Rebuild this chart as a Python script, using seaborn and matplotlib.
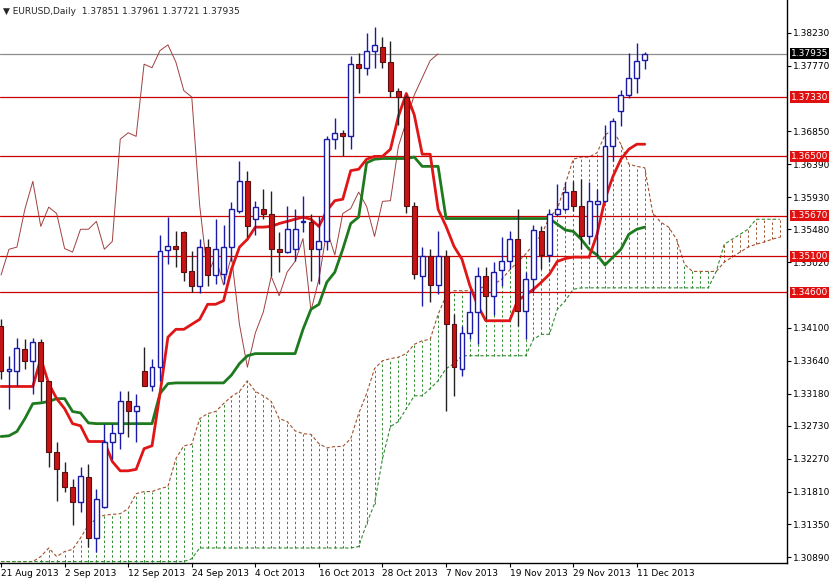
import numpy as np
import pandas as pd
import matplotlib
matplotlib.use("Agg")
import matplotlib.pyplot as plt
import seaborn as sns

# EURUSD daily candles, 21 Aug 2013 .. 12 Dec 2013
opens = [1.3413, 1.3349, 1.3350, 1.3381, 1.3364, 1.3390, 1.3335, 1.3237, 1.3208, 1.3187,
         1.3166, 1.3202, 1.3116, 1.3159, 1.3251, 1.3263, 1.3307, 1.3294, 1.3349, 1.3329,
         1.3355, 1.3519, 1.3524, 1.3544, 1.3489, 1.3469, 1.3523, 1.3484, 1.3485, 1.3523,
         1.3574, 1.3615, 1.3562, 1.3577, 1.3570, 1.3521, 1.3516, 1.3520, 1.3558, 1.3558,
         1.3520, 1.3531, 1.3674, 1.3682, 1.3678, 1.3779, 1.3774, 1.3798, 1.3803, 1.3782,
         1.3742, 1.3733, 1.3580, 1.3482, 1.3510, 1.3470, 1.3510, 1.3415, 1.3353, 1.3403,
         1.3432, 1.3482, 1.3455, 1.3491, 1.3503, 1.3535, 1.3434, 1.3478, 1.3545, 1.3512,
         1.3569, 1.3577, 1.3601, 1.3581, 1.3538, 1.3584, 1.3588, 1.3664, 1.3713, 1.3736,
         1.3759, 1.37851]
highs = [1.3422, 1.3371, 1.3396, 1.3394, 1.3396, 1.3394, 1.3336, 1.3251, 1.3223, 1.3199,
         1.3215, 1.3220, 1.3185, 1.3276, 1.3276, 1.3321, 1.3321, 1.3318, 1.3383, 1.3367,
         1.3540, 1.3565, 1.3545, 1.3545, 1.3517, 1.3535, 1.3534, 1.3562, 1.3554, 1.3586,
         1.3644, 1.3630, 1.3588, 1.3605, 1.3602, 1.3544, 1.3580, 1.3576, 1.3594, 1.3569,
         1.3566, 1.3678, 1.3703, 1.3687, 1.3791, 1.3795, 1.3823, 1.3831, 1.3817, 1.3812,
         1.3746, 1.3736, 1.3586, 1.3523, 1.3520, 1.3545, 1.3519, 1.3429, 1.3413, 1.3462,
         1.3495, 1.3495, 1.3502, 1.3537, 1.3545, 1.3576, 1.3488, 1.3554, 1.3552, 1.3576,
         1.3611, 1.3614, 1.3615, 1.3618, 1.3614, 1.3604, 1.3694, 1.3704, 1.3743, 1.3795,
         1.3809, 1.37961]
lows = [1.3339, 1.3297, 1.3329, 1.3353, 1.3318, 1.3307, 1.3216, 1.3168, 1.3181, 1.3134,
        1.3153, 1.3104, 1.3097, 1.3158, 1.3227, 1.3241, 1.3258, 1.3251, 1.3328, 1.3321,
        1.3336, 1.3499, 1.3495, 1.3475, 1.3460, 1.3459, 1.3468, 1.3471, 1.3471, 1.3503,
        1.3571, 1.3537, 1.3540, 1.3562, 1.3482, 1.3488, 1.3515, 1.3503, 1.3544, 1.3475,
        1.3471, 1.3519, 1.3660, 1.3650, 1.3661, 1.3739, 1.3764, 1.3774, 1.3774, 1.3733,
        1.3694, 1.3571, 1.3478, 1.3441, 1.3446, 1.3457, 1.3293, 1.3314, 1.3342, 1.3394,
        1.3387, 1.3422, 1.3428, 1.3469, 1.3492, 1.3413, 1.3394, 1.3460, 1.3492, 1.3502,
        1.3566, 1.3574, 1.3573, 1.3520, 1.3527, 1.3510, 1.3586, 1.3643, 1.3692, 1.3732,
        1.3739, 1.37721]
closes = [1.3349, 1.3353, 1.3382, 1.3364, 1.3390, 1.3335, 1.3237, 1.3212, 1.3187, 1.3166,
          1.3203, 1.3116, 1.3171, 1.3251, 1.3263, 1.3307, 1.3294, 1.3300, 1.3329, 1.3355,
          1.3517, 1.3524, 1.3521, 1.3488, 1.3469, 1.3523, 1.3484, 1.3520, 1.3523, 1.3576,
          1.3615, 1.3552, 1.3579, 1.3570, 1.3521, 1.3516, 1.3548, 1.3548, 1.3559, 1.3520,
          1.3531, 1.3674, 1.3683, 1.3678, 1.3779, 1.3774, 1.3798, 1.3806, 1.3782, 1.3742,
          1.3733, 1.3581, 1.3485, 1.3510, 1.3470, 1.3510, 1.3415, 1.3355, 1.3403, 1.3432,
          1.3482, 1.3455, 1.3488, 1.3503, 1.3535, 1.3434, 1.3478, 1.3547, 1.3512, 1.3570,
          1.3577, 1.3600, 1.3580, 1.3538, 1.3587, 1.3588, 1.3664, 1.3699, 1.3736, 1.3760,
          1.3784, 1.37935]

# Ichimoku lines
tenkan = [1.3328, 1.3328, 1.3328, 1.3328, 1.3328, 1.3367, 1.3332, 1.3311, 1.3297, 1.3276,
          1.3273, 1.3251, 1.3251, 1.3251, 1.3223, 1.3210, 1.3210, 1.3212, 1.3241, 1.3245,
          1.3318, 1.3397, 1.3408, 1.3408, 1.3415, 1.3422, 1.3443, 1.3443, 1.3448, 1.3492,
          1.3523, 1.3534, 1.3551, 1.3551, 1.3552, 1.3556, 1.3559, 1.3562, 1.3565, 1.3562,
          1.3552, 1.3574, 1.3588, 1.3590, 1.3630, 1.3632, 1.3646, 1.3650, 1.3650, 1.3660,
          1.3706, 1.3738, 1.3708, 1.3653, 1.3653, 1.3576, 1.3552, 1.3524, 1.3506, 1.3469,
          1.3441, 1.3420, 1.3420, 1.3420, 1.3420, 1.3448, 1.3456, 1.3464, 1.3474, 1.3485,
          1.3503, 1.3507, 1.3509, 1.3509, 1.3509, 1.3541, 1.3590, 1.3622, 1.3646, 1.3660,
          1.3667, 1.3667]
kijun = [1.3258, 1.3259, 1.3265, 1.3283, 1.3304, 1.3305, 1.3307, 1.3311, 1.3311, 1.3293,
         1.3291, 1.3277, 1.3276, 1.3276, 1.3276, 1.3276, 1.3276, 1.3276, 1.3276, 1.3276,
         1.3318, 1.3332, 1.3333, 1.3333, 1.3333, 1.3333, 1.3333, 1.3333, 1.3333, 1.3344,
         1.3360, 1.3371, 1.3374, 1.3374, 1.3374, 1.3374, 1.3374, 1.3374, 1.3408, 1.3436,
         1.3443, 1.3474, 1.3488, 1.3520, 1.3556, 1.3565, 1.3641, 1.3646, 1.3647, 1.3647,
         1.3647, 1.3647, 1.3649, 1.3636, 1.3636, 1.3636, 1.3563, 1.3563, 1.3563, 1.3563,
         1.3563, 1.3563, 1.3563, 1.3563, 1.3563, 1.3563, 1.3563, 1.3563, 1.3563, 1.3563,
         1.3555, 1.3547, 1.3545, 1.3534, 1.3520, 1.3512, 1.3498, 1.3509, 1.3520, 1.3541,
         1.3548, 1.3551]
span_a = [1.3083, 1.3083, 1.3083, 1.3083, 1.3083, 1.3090, 1.3102, 1.3090, 1.3097, 1.3100,
          1.3116, 1.3134, 1.3143, 1.3148, 1.3149, 1.3150, 1.3157, 1.3178, 1.3181, 1.3181,
          1.3185, 1.3188, 1.3227, 1.3245, 1.3247, 1.3283, 1.3290, 1.3293, 1.3304, 1.3314,
          1.3321, 1.3336, 1.3321, 1.3315, 1.3307, 1.3283, 1.3279, 1.3266, 1.3262, 1.3261,
          1.3248, 1.3242, 1.3244, 1.3244, 1.3255, 1.3290, 1.3318, 1.3353, 1.3364, 1.3367,
          1.3369, 1.3374, 1.3387, 1.3392, 1.3394, 1.3429, 1.3455, 1.3462, 1.3462, 1.3462,
          1.3464, 1.3469, 1.3471, 1.3478, 1.3491, 1.3502, 1.3513, 1.3527, 1.3540, 1.3565,
          1.3576, 1.3611, 1.3646, 1.3649, 1.3649, 1.3655, 1.3680, 1.3687, 1.3667, 1.3639,
          1.3636, 1.3634, 1.3571, 1.3558, 1.3551, 1.3534, 1.3499, 1.3489, 1.3489, 1.3489,
          1.3489, 1.3502, 1.3509, 1.3516, 1.3523, 1.3527, 1.3530, 1.3534, 1.3537]
span_b = [1.3083, 1.3083, 1.3083, 1.3083, 1.3083, 1.3083, 1.3083, 1.3083, 1.3083, 1.3083,
          1.3083, 1.3083, 1.3083, 1.3083, 1.3083, 1.3083, 1.3083, 1.3083, 1.3083, 1.3083,
          1.3083, 1.3083, 1.3083, 1.3083, 1.3087, 1.3102, 1.3102, 1.3102, 1.3102, 1.3102,
          1.3102, 1.3102, 1.3102, 1.3102, 1.3102, 1.3102, 1.3102, 1.3102, 1.3102, 1.3102,
          1.3102, 1.3102, 1.3102, 1.3102, 1.3102, 1.3104, 1.3136, 1.3164, 1.3227, 1.3272,
          1.3279, 1.3297, 1.3315, 1.3315, 1.3325, 1.3336, 1.3353, 1.3360, 1.3371, 1.3371,
          1.3371, 1.3371, 1.3371, 1.3371, 1.3371, 1.3371, 1.3371, 1.3394, 1.3401, 1.3401,
          1.3436, 1.3448, 1.3464, 1.3466, 1.3466, 1.3466, 1.3466, 1.3466, 1.3466, 1.3466,
          1.3466, 1.3466, 1.3466, 1.3466, 1.3466, 1.3466, 1.3466, 1.3466, 1.3466, 1.3466,
          1.3489, 1.3527, 1.3534, 1.3541, 1.3548, 1.3562, 1.3562, 1.3562, 1.3562]

levels = [1.37330, 1.36500, 1.35670, 1.35100, 1.34600]
last_price = 1.37935
price_ticks = [1.38230, 1.37770, 1.36850, 1.36390, 1.35930, 1.35480, 1.35020,
               1.34100, 1.33640, 1.33180, 1.32730, 1.32270, 1.31810, 1.31350, 1.30890]

df = pd.DataFrame({"open": opens, "high": highs, "low": lows, "close": closes,
                   "tenkan": tenkan, "kijun": kijun})
df["date"] = pd.bdate_range("2013-08-21", periods=len(df))
df["bar"] = np.arange(len(df))
df["chikou"] = df["close"].shift(-26)
cloud = pd.DataFrame({"a": span_a, "b": span_b})
cloud["bar"] = np.arange(len(cloud))

sns.set_style("white")
plt.rcParams["font.family"] = ["DejaVu Sans"]
fig = plt.figure(figsize=(8.31, 5.80), dpi=100)
ax = fig.add_axes([0, 17 / 580, 787 / 831, 563 / 580])

# cloud hatching
for _, r in cloud.iterrows():
    col = "#2e8b2e" if r["a"] >= r["b"] else "#a0522d"
    ax.vlines(r["bar"], min(r["a"], r["b"]), max(r["a"], r["b"]), color=col,
              lw=0.7, linestyles=(0, (2.5, 2.5)), zorder=1)
sns.lineplot(data=cloud, x="bar", y="a", ax=ax, color="#a0522d", lw=0.8,
             linestyle=(0, (3, 2)), zorder=2)
sns.lineplot(data=cloud, x="bar", y="b", ax=ax, color="#2e8b2e", lw=0.8,
             linestyle=(0, (3, 2)), zorder=2)

# support / resistance
for lv in levels:
    ax.axhline(lv, color="#cc0000", lw=0.9, zorder=2)
ax.axhline(last_price, color="#8c8c8c", lw=0.9, zorder=2)

sns.lineplot(data=df, x="bar", y="chikou", ax=ax, color="#a04040", lw=0.7, zorder=3)
sns.lineplot(data=df, x="bar", y="kijun", ax=ax, color="#1e7a1e", lw=2.0, zorder=4)
sns.lineplot(data=df, x="bar", y="tenkan", ax=ax, color="#e01515", lw=2.0, zorder=4)

# candles
up = df[df["close"] >= df["open"]]
dn = df[df["close"] < df["open"]]
ax.vlines(up["bar"], up["low"], up["high"], color="#1a1aa8", lw=1, zorder=5)
ax.vlines(dn["bar"], dn["low"], dn["high"], color="#222222", lw=1, zorder=5)
ax.bar(up["bar"], up["close"] - up["open"], bottom=up["open"], width=0.62,
       color="white", edgecolor="#1a1aa8", lw=1, zorder=6)
ax.bar(dn["bar"], dn["open"] - dn["close"], bottom=dn["close"], width=0.62,
       color="#c81414", edgecolor="#5a1010", lw=0.8, zorder=6)

ax.set_xlim(-0.13, 98.9)
ax.set_ylim(1.3081, 1.38688)
ax.set_xlabel("")
ax.set_ylabel("")

xt = df["bar"][::8]
ax.set_xticks(xt)
ax.set_xticklabels([d.strftime("%-d %b %Y") for d in df["date"][::8]],
                   ha="left", fontsize=6.5)
ax.yaxis.tick_right()
ax.set_yticks(price_ticks)
ax.set_yticklabels([f"{v:.5f}" for v in price_ticks], fontsize=6.5)
ax.tick_params(axis="both", length=3, width=0.8, direction="out", pad=1.5,
               colors="black", bottom=True, right=True)
for s in ["top", "left"]:
    ax.spines[s].set_visible(False)
for s in ["bottom", "right"]:
    ax.spines[s].set_color("black")
    ax.spines[s].set_linewidth(1)

trans = ax.get_yaxis_transform()
for lv in levels:
    ax.text(1.005, lv, f"{lv:.5f}", transform=trans, fontsize=6.5, color="white",
            va="center", ha="left", zorder=10, clip_on=False,
            bbox=dict(boxstyle="square,pad=0.12", fc="#e01010", ec="none"))
ax.text(1.005, last_price, f"{last_price:.5f}", transform=trans, fontsize=6.5,
        color="white", va="center", ha="left", zorder=10, clip_on=False,
        bbox=dict(boxstyle="square,pad=0.12", fc="black", ec="none"))

fig.text(0.004, 0.988, "\u25bc EURUSD,Daily  1.37851 1.37961 1.37721 1.37935",
         fontsize=6.5, va="top", ha="left")

fig.savefig("out.png", dpi=100)
